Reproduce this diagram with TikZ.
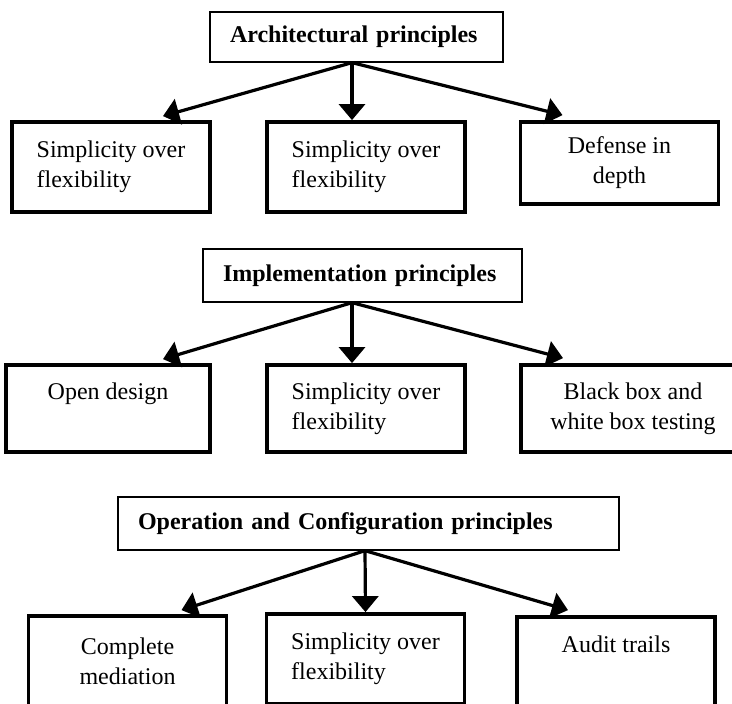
\documentclass[tikz,border=0pt]{standalone}
\usepackage{fontspec}
\setmainfont{Liberation Serif}
\usetikzlibrary{arrows.meta}

\newcommand*{\pagew}{732}
\newcommand*{\pageh}{703}

\begin{document}
\begin{tikzpicture}[x=0.5pt,y=-0.5pt,
	font=\fontsize{12}{15}\selectfont,
	heading/.style={draw,line width=0.65pt,font=\fontsize{12}{15}\selectfont\bfseries,
		align=left,inner xsep=10pt,inner ysep=0pt,minimum height=26pt},
	leaf/.style={draw,line width=1.9pt,inner sep=0pt,minimum width=99pt,minimum height=45pt},
	link/.style={-{Triangle[length=8pt,width=13pt]},line width=1.6pt}]

	\useasboundingbox (0,0) rectangle (\pagew,\pageh);
	\clip (0,0) rectangle (\pagew,\pageh);

	% architectural
	\node[heading,text width=126.5pt,minimum height=25pt] (arch) at (356.5,37) {Architectural principles};
	\node[leaf,align=left] (arch1) at (111,167) {Simplicity over\\flexibility};
	\node[leaf,align=left] (arch2) at (366,167) {Simplicity over\\flexibility};
	\node[leaf,align=center,minimum height=41pt] (arch3) at (619.5,163) {Defense in\\depth};

	\draw[link] ([xshift=-2.25pt]arch.south) -- ([xshift=26pt,yshift=2pt]arch1.north);
	\draw[link] ([xshift=-2.25pt]arch.south) -- ([xshift=-7pt]arch2.north);
	\draw[link] ([xshift=-2.25pt]arch.south) -- ([xshift=-28.5pt,yshift=2.5pt]arch3.north);

	% implementation
	\node[heading,text width=139.5pt,minimum height=26.5pt] (impl) at (362.5,275.5) {Implementation principles};
	\node[leaf,align=center,minimum width=102pt,minimum height=43.5pt] (impl1) at (108,408.5) {Open design\\\vphantom{y}};
	\node[leaf,align=left,minimum height=43.5pt] (impl2) at (366,408.5) {Simplicity over\\flexibility};
	\node[leaf,align=center,minimum width=112pt,minimum height=43.5pt] (impl3) at (633,408.5) {Black box and\\white box testing};

	\draw[link] ([xshift=-5.25pt]impl.south) -- ([xshift=27.5pt,yshift=2pt]impl1.north);
	\draw[link] ([xshift=-5.25pt]impl.south) -- ([xshift=-7pt]impl2.north);
	\draw[link] ([xshift=-5.25pt]impl.south) -- ([xshift=-35pt,yshift=2.5pt]impl3.north);

	% operation and configuration
	\node[heading,text width=230.5pt,minimum height=26.5pt] (oper) at (368.5,523.5) {Operation and Configuration principles};
	\node[leaf,align=center] (oper1) at (127.5,661) {Complete\\mediation};
	\node[leaf,align=left] (oper2) at (365.5,659) {Simplicity over\\flexibility};
	\node[leaf,align=center] (oper3) at (616,662) {Audit trails\\\vphantom{y}};

	\draw[link] ([xshift=-1.75pt]oper.south) -- ([xshift=27pt,yshift=2pt]oper1.north);
	\draw[link] ([xshift=-1.75pt]oper.south) -- (oper2.north);
	\draw[link] ([xshift=-1.75pt]oper.south) -- ([xshift=-24pt,yshift=2.5pt]oper3.north);

\end{tikzpicture}
\end{document}
